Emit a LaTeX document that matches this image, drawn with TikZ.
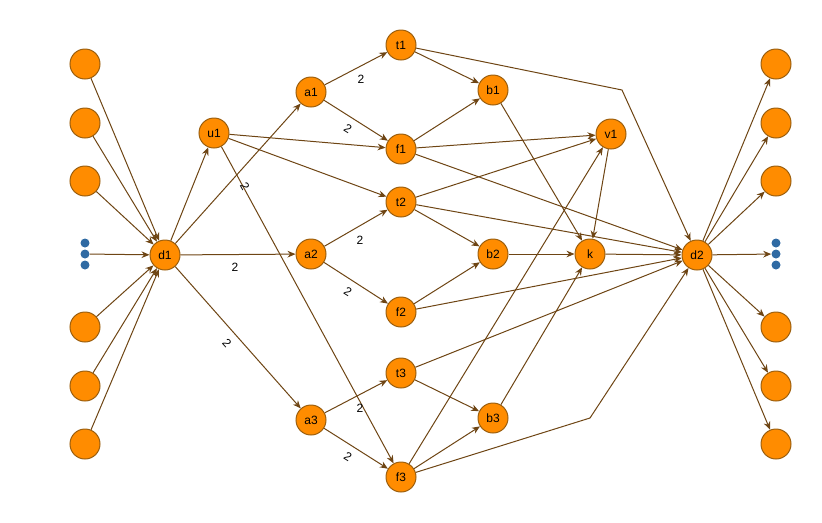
\documentclass[tikz,border=0pt]{standalone}
\usepackage{fontspec}
\setmainfont{Liberation Sans}
\usetikzlibrary{arrows.meta}
\definecolor{nodefill}{HTML}{FF8C00}
\definecolor{nodeline}{HTML}{9C5F0E}
\definecolor{edgecol}{HTML}{6E4514}
\definecolor{dotblue}{HTML}{2F6AA3}
\begin{document}
\begin{tikzpicture}[x=0.75pt,y=-0.75pt,
  vtx/.style={circle,draw=nodeline,fill=nodefill,line width=0.75pt,minimum size=22.5pt,inner sep=0pt,font=\fontsize{9}{10}\selectfont},
  dotn/.style={circle,fill=dotblue,minimum size=6.75pt,inner sep=0pt},
  arr/.style={draw=edgecol,line width=0.75pt,-{Stealth[length=6pt,width=5pt]}},
  lbl/.style={font=\fontsize{9}{10}\selectfont,inner sep=0pt}]
\useasboundingbox (0,0) rectangle (822,522);
% left side
\node[vtx] (L1) at (85,64) {};
\node[vtx] (L2) at (85,123) {};
\node[vtx] (L3) at (85,181) {};
\node[vtx] (L4) at (85,327) {};
\node[vtx] (L5) at (85,386) {};
\node[vtx] (L6) at (85,444) {};
\node[dotn] (LD1) at (85,243) {};
\node[dotn] (LD2) at (85,254) {};
\node[dotn] (LD3) at (85,265) {};
% right side
\node[vtx] (R1) at (776,64) {};
\node[vtx] (R2) at (776,123) {};
\node[vtx] (R3) at (776,181) {};
\node[vtx] (R4) at (776,327) {};
\node[vtx] (R5) at (776,386) {};
\node[vtx] (R6) at (776,444) {};
\node[dotn] (RD1) at (776,243) {};
\node[dotn] (RD2) at (776,254) {};
\node[dotn] (RD3) at (776,265) {};
% inner nodes
\node[vtx] (d1) at (165,255) {d1};
\node[vtx] (u1) at (214,133) {u1};
\node[vtx] (a1) at (311,92) {a1};
\node[vtx] (a2) at (311,254) {a2};
\node[vtx] (a3) at (311,420) {a3};
\node[vtx] (t1) at (401,45) {t1};
\node[vtx] (f1) at (401,149) {f1};
\node[vtx] (t2) at (401,202) {t2};
\node[vtx] (f2) at (401,312) {f2};
\node[vtx] (t3) at (401,373) {t3};
\node[vtx] (f3) at (401,477) {f3};
\node[vtx] (b1) at (493,90) {b1};
\node[vtx] (b2) at (493,254) {b2};
\node[vtx] (b3) at (493,418) {b3};
\node[vtx] (v1) at (611,134) {v1};
\node[vtx] (k) at (590,254) {k};
\node[vtx] (d2) at (697,255) {d2};
\coordinate (bendA) at (622,90);
\coordinate (bendB) at (590,418);
% left edges into d1
\foreach \s in {L1,L2,L3,L4,L5,L6,LD2} \draw[arr] (\s) -- (d1);
% d1 out
\draw[arr] (d1) -- (u1);
\draw[arr] (d1) -- (a1);
\draw[arr] (d1) -- (a2) node[lbl,midway,xshift=-2.25pt,yshift=-9.75pt] {2};
\draw[arr] (d1) -- (a3) node[lbl,midway,xshift=-8.25pt,yshift=-4.5pt,rotate=-48] {2};
% u1 out
\draw[arr] (u1) -- (f1);
\draw[arr] (u1) -- (t2);
\draw[arr] (u1) -- (f3) node[lbl,pos=0.125,xshift=1.5pt,rotate=-61] {2};
% a out
\draw[arr] (a1) -- (t1) node[lbl,midway,xshift=3.75pt,yshift=-8.25pt] {2};
\draw[arr] (a1) -- (f1) node[lbl,midway,xshift=-6pt,yshift=-6pt,rotate=-32] {2};
\draw[arr] (a2) -- (t2) node[lbl,midway,xshift=3pt,yshift=-9pt] {2};
\draw[arr] (a2) -- (f2) node[lbl,midway,xshift=-6pt,yshift=-6.75pt,rotate=-32] {2};
\draw[arr] (a3) -- (t3) node[lbl,midway,xshift=3pt,yshift=-9pt] {2};
\draw[arr] (a3) -- (f3) node[lbl,midway,xshift=-6pt,yshift=-6pt,rotate=-32] {2};
% t/f out
\draw[arr] (t1) -- (b1);
\draw[arr] (t1) -- (bendA) -- (d2);
\draw[arr] (f1) -- (b1);
\draw[arr] (f1) -- (v1);
\draw[arr] (f1) -- (d2);
\draw[arr] (t2) -- (v1);
\draw[arr] (t2) -- (b2);
\draw[arr] (t2) -- (d2);
\draw[arr] (f2) -- (b2);
\draw[arr] (f2) -- (d2);
\draw[arr] (t3) -- (b3);
\draw[arr] (t3) -- (d2);
\draw[arr] (f3) -- (b3);
\draw[arr] (f3) -- (v1);
\draw[arr] (f3) -- (bendB) -- (d2);
% b, v, k
\draw[arr] (b1) -- (k);
\draw[arr] (b2) -- (k);
\draw[arr] (b3) -- (k);
\draw[arr] (v1) -- (k);
\draw[arr] (k) -- (d2);
% d2 out
\foreach \t in {R1,R2,R3,R4,R5,R6,RD2} \draw[arr] (d2) -- (\t);
\end{tikzpicture}
\end{document}
